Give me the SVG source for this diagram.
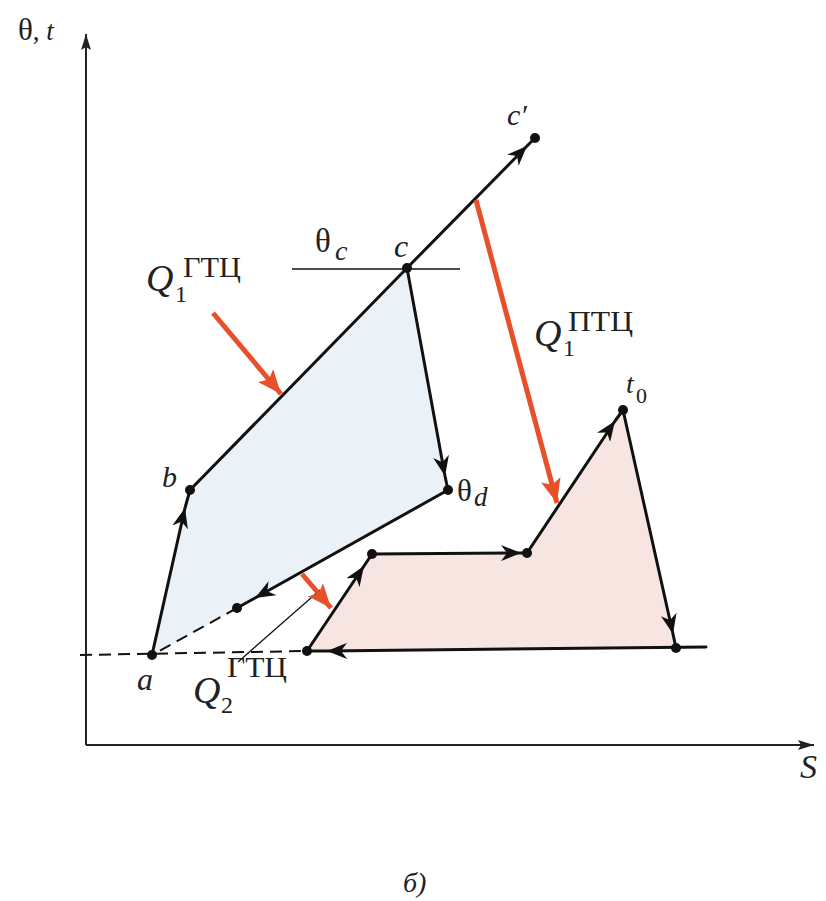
<svg xmlns="http://www.w3.org/2000/svg" width="826" height="901" viewBox="0 0 826 901">
<style>
.ln{fill:none;stroke:#111;stroke-width:3;stroke-linecap:round;stroke-linejoin:round}
.ax{fill:none;stroke:#222;stroke-width:2}
.thin{fill:none;stroke:#111;stroke-width:1.3}
.dash{fill:none;stroke:#111;stroke-width:2;stroke-dasharray:12 7}
.red{fill:none;stroke:#e8502a;stroke-width:5}
.dot{fill:#111}
.t{font-family:"Liberation Serif","Times New Roman",serif;fill:#222}
.i{font-style:italic}
.mid{marker-mid:url(#ah)}
</style>
<defs>
<marker id="ah" markerUnits="userSpaceOnUse" markerWidth="22" markerHeight="16" refX="20" refY="8" orient="auto">
<path d="M0,0 L20,8 L0,16 L6,8 z" fill="#111"/>
</marker>
<marker id="axh" markerUnits="userSpaceOnUse" markerWidth="18" markerHeight="10" refX="16" refY="5" orient="auto">
<path d="M0,0 L16,5 L0,10 L3,5 z" fill="#222"/>
</marker>
<marker id="rh" markerUnits="userSpaceOnUse" markerWidth="26" markerHeight="20" refX="24" refY="10" orient="auto">
<path d="M0,0 L24,10 L0,20 L5,10 z" fill="#e8502a"/>
</marker>
</defs>

<g id="axes">
<path class="ax" d="M86,745 L86,34" marker-end="url(#axh)"/>
<path class="ax" d="M86,745 L814,745" marker-end="url(#axh)"/>
<text class="t" x="18" y="40" font-size="27"><tspan font-size="31">θ</tspan>, <tspan class="i">t</tspan></text>
<text class="t i" x="800" y="778" font-size="34">S</text>
</g>

<g id="cycle-gtc">
<polygon points="152,655 190,490 407,268 448,490 237,608" fill="#eaf2f8"/>
</g>
<g id="cycle-ptc">
<polygon points="307,651 372,554 527,553 623,410 676,648" fill="#f6e5e1"/>
</g>

<g id="connectors">
<path class="dash" d="M80,655 L307,651"/>
<path class="thin" d="M292,269 L460,269"/>
<path class="ln mid" d="M152,655 L185,508 L190,490"/>
<path class="ln" d="M190,490 L407,268"/>
<path class="ln mid" d="M407,268 L527,146 L535,138"/>
<path class="ln mid" d="M407,268 L445,476 L448,490"/>
<path class="ln mid" d="M448,490 L255,598 L237,608"/>
<path class="dash" stroke-width="3" d="M237,608 L152,655"/>
<path class="ln mid" d="M307,651 L364,566 L372,554"/>
<path class="ln mid" d="M372,554 L521,553 L527,553"/>
<path class="ln mid" d="M527,553 L615,421 L623,410"/>
<path class="ln mid" d="M623,410 L673,634 L676,648"/>
<path class="ln mid" d="M706,647 L327,651 L307,651"/>
<path class="thin" d="M238,662 L320,590"/>
<path class="red" d="M213,313 L281,394" marker-end="url(#rh)"/>
<path class="red" d="M476,200 L557,503" marker-end="url(#rh)"/>
<path class="red" d="M302,574 L331,608" marker-end="url(#rh)"/>
</g>

<g id="a"><circle class="dot" cx="152" cy="655" r="5"/><text class="t i" x="137" y="690" font-size="32">a</text></g>
<g id="b"><circle class="dot" cx="190" cy="490" r="5"/><text class="t i" x="162" y="487" font-size="30">b</text></g>
<g id="c"><circle class="dot" cx="407" cy="268" r="5"/><text class="t i" x="394" y="257" font-size="32">c</text>
<text class="t" x="315" y="252" font-size="33">θ</text><text class="t i" x="335" y="260" font-size="28">c</text></g>
<g id="c-prime"><circle class="dot" cx="535" cy="138" r="5"/><text class="t i" x="507" y="125" font-size="30">c′</text></g>
<g id="theta-d"><circle class="dot" cx="448" cy="490" r="5"/><text class="t" x="457" y="501" font-size="31">θ</text><text class="t i" x="474" y="506" font-size="27">d</text></g>
<g id="p-dash"><circle class="dot" cx="237" cy="608" r="5"/></g>
<g id="p1"><circle class="dot" cx="307" cy="651" r="5"/></g>
<g id="p2"><circle class="dot" cx="372" cy="554" r="5"/></g>
<g id="p3"><circle class="dot" cx="527" cy="553" r="5"/></g>
<g id="t0"><circle class="dot" cx="623" cy="410" r="5"/><text class="t i" x="626" y="393" font-size="28">t</text><text class="t" x="636" y="403" font-size="22">0</text></g>
<g id="p4"><circle class="dot" cx="676" cy="648" r="5"/></g>

<g id="label-q1-gtc">
<text class="t i" x="146" y="291" font-size="38">Q</text>
<text class="t" x="175" y="302" font-size="24">1</text>
<text class="t" x="183" y="277" font-size="29" textLength="58" lengthAdjust="spacingAndGlyphs">ГТЦ</text>
</g>
<g id="label-q1-ptc">
<text class="t i" x="534" y="346" font-size="38">Q</text>
<text class="t" x="563" y="356" font-size="24">1</text>
<text class="t" x="568" y="331" font-size="29" textLength="65" lengthAdjust="spacingAndGlyphs">ПТЦ</text>
</g>
<g id="label-q2-gtc">
<text class="t i" x="193" y="703" font-size="38">Q</text>
<text class="t" x="221" y="713" font-size="24">2</text>
<text class="t" x="227" y="677" font-size="29" textLength="60" lengthAdjust="spacingAndGlyphs">ГТЦ</text>
</g>
<g id="caption"><text class="t i" x="403" y="892" font-size="28">б)</text></g>
</svg>
